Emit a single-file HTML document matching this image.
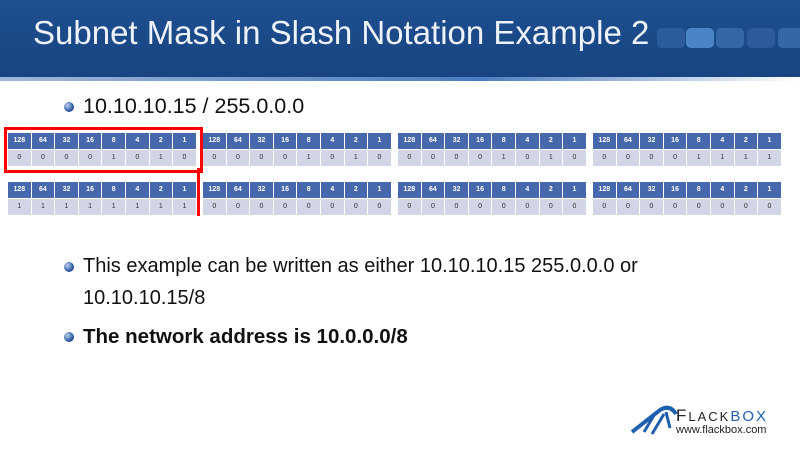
<!DOCTYPE html><html><head><meta charset="utf-8"><style>
body{margin:0;width:800px;height:450px;position:relative;background:#fff;font-family:"Liberation Sans",sans-serif;overflow:hidden}
.ban{position:absolute;left:0;top:0;width:800px;height:78px;background:linear-gradient(#1e4f8f,#184482)}
.ban2{position:absolute;left:0;top:77px;width:800px;height:4px;background:linear-gradient(90deg,#9fb8d8,#4a7cc0 60%,#fff)}
.title{position:absolute;left:33px;top:14px;font-size:33px;color:#eef2fa;white-space:nowrap;letter-spacing:0px}
.sq{position:absolute;top:28px;height:20px;width:28px;border-radius:5px;background:#3a6aa8}
.oct{position:absolute;display:flex;gap:1px}
.oct div{width:22.6px;height:16px;font-size:7px;line-height:16px;text-align:center}
.h div{background:#4668ad;color:#fff;font-weight:bold}
.v div{background:#d1d5e5;color:#333}
.b{position:absolute;left:64px;width:10px;height:10px;border-radius:50%;background:radial-gradient(circle at 35% 35%,#bcd3f0,#2c5aa0 60%,#123a70)}
.t{position:absolute;left:83px;font-size:20px;color:#111;white-space:nowrap;font-family:"Liberation Sans",sans-serif}
</style></head><body>
<div class="ban"></div><div class="ban2"></div>
<div class="sq" style="left:657px;background:#2c5c9c"></div>
<div class="title">Subnet Mask in Slash Notation Example 2</div>
<div class="sq" style="left:686px;background:#4a86c6"></div>
<div class="sq" style="left:716px;background:#3566a8"></div>
<div class="sq" style="left:747px;background:#2c5a9a"></div>
<div class="sq" style="left:778px;background:#3566a8"></div>

<div class="b" style="top:102px"></div><div class="t" style="top:94px;font-size:21.5px">10.10.10.15 / 255.0.0.0</div>

<div class="oct h" style="left:8px;top:133px"><div>128</div><div>64</div><div>32</div><div>16</div><div>8</div><div>4</div><div>2</div><div>1</div></div>
<div class="oct h" style="left:203px;top:133px"><div>128</div><div>64</div><div>32</div><div>16</div><div>8</div><div>4</div><div>2</div><div>1</div></div>
<div class="oct h" style="left:398px;top:133px"><div>128</div><div>64</div><div>32</div><div>16</div><div>8</div><div>4</div><div>2</div><div>1</div></div>
<div class="oct h" style="left:593px;top:133px"><div>128</div><div>64</div><div>32</div><div>16</div><div>8</div><div>4</div><div>2</div><div>1</div></div>
<div class="oct v" style="left:8px;top:150px"><div>0</div><div>0</div><div>0</div><div>0</div><div>1</div><div>0</div><div>1</div><div>0</div></div>
<div class="oct v" style="left:203px;top:150px"><div>0</div><div>0</div><div>0</div><div>0</div><div>1</div><div>0</div><div>1</div><div>0</div></div>
<div class="oct v" style="left:398px;top:150px"><div>0</div><div>0</div><div>0</div><div>0</div><div>1</div><div>0</div><div>1</div><div>0</div></div>
<div class="oct v" style="left:593px;top:150px"><div>0</div><div>0</div><div>0</div><div>0</div><div>1</div><div>1</div><div>1</div><div>1</div></div>

<div class="oct h" style="left:8px;top:182px"><div>128</div><div>64</div><div>32</div><div>16</div><div>8</div><div>4</div><div>2</div><div>1</div></div>
<div class="oct h" style="left:203px;top:182px"><div>128</div><div>64</div><div>32</div><div>16</div><div>8</div><div>4</div><div>2</div><div>1</div></div>
<div class="oct h" style="left:398px;top:182px"><div>128</div><div>64</div><div>32</div><div>16</div><div>8</div><div>4</div><div>2</div><div>1</div></div>
<div class="oct h" style="left:593px;top:182px"><div>128</div><div>64</div><div>32</div><div>16</div><div>8</div><div>4</div><div>2</div><div>1</div></div>
<div class="oct v" style="left:8px;top:199px"><div>1</div><div>1</div><div>1</div><div>1</div><div>1</div><div>1</div><div>1</div><div>1</div></div>
<div class="oct v" style="left:203px;top:199px"><div>0</div><div>0</div><div>0</div><div>0</div><div>0</div><div>0</div><div>0</div><div>0</div></div>
<div class="oct v" style="left:398px;top:199px"><div>0</div><div>0</div><div>0</div><div>0</div><div>0</div><div>0</div><div>0</div><div>0</div></div>
<div class="oct v" style="left:593px;top:199px"><div>0</div><div>0</div><div>0</div><div>0</div><div>0</div><div>0</div><div>0</div><div>0</div></div>

<div style="position:absolute;left:4px;top:127px;width:193px;height:40px;border:3px solid #f00"></div>
<div style="position:absolute;left:197px;top:168px;width:3px;height:48px;background:#f00"></div>

<div class="b" style="top:262px"></div><div class="t" style="top:255px">This example can be written as either 10.10.10.15 255.0.0.0 or</div>
<div class="t" style="top:287px">10.10.10.15/8</div>
<div class="b" style="top:332px"></div><div class="t" style="top:325px;font-weight:bold;font-size:20.5px">The network address is 10.0.0.0/8</div>

<svg style="position:absolute;left:630px;top:402px" width="50" height="36" viewBox="0 0 50 36">
<path d="M2 30 L30 8 Q40 2 46 12" fill="none" stroke="#1f5fb0" stroke-width="4"/>
<path d="M14 30 L26 10 M22 32 L34 12 M36 10 L40 26" fill="none" stroke="#1f5fb0" stroke-width="3"/>
</svg>
<div style="position:absolute;left:676px;top:406px;font-size:17px;letter-spacing:2px;color:#222;white-space:nowrap">F<span style="font-size:13px">LACK</span><span style="color:#1f5fb0;font-size:15px">BOX</span></div>
<div style="position:absolute;left:676px;top:424px;font-size:11px;color:#222;white-space:nowrap">www.flackbox.com</div>
</body></html>
